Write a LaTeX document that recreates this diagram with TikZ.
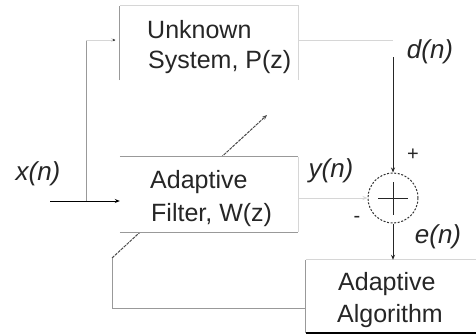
\documentclass[tikz,border=0pt]{standalone}
\usepackage{fontspec}
\setmainfont{Liberation Sans}
\usetikzlibrary{arrows.meta}
\definecolor{edgeA}{HTML}{999999}
\definecolor{edgeB}{HTML}{D6D6D6}
\definecolor{wireG}{HTML}{8C8C8C}
\begin{document}
\begin{tikzpicture}[x=1pt,y=-1pt,
  box/.style={draw=none,fill=white,inner sep=0pt},
  txt/.style={font=\fontsize{25}{30}\selectfont,inner sep=0pt,anchor=base west,text=black!85},
  lab/.style={font=\itshape\fontsize{26}{30}\selectfont,inner sep=0pt,text=black!85},
  sgn/.style={font=\fontsize{20}{24}\selectfont,inner sep=0pt,text=black!85},
  arr/.style={-{Stealth[length=5pt,width=4pt]}},
  wire/.style={line width=1pt},
  sumc/.style={circle,draw=black!80,line width=1pt,dash pattern=on 2pt off 1.6pt,minimum size=50pt,inner sep=0pt}]
\useasboundingbox[fill=white] (0,0) rectangle (476,335);
% feedback / adaptation coordinates
\coordinate (fb) at (112,308);
\coordinate (fbc) at (112,258);
\coordinate (fbt) at (267,115);
\draw[wire,arr,draw=black!70,dash pattern=on 3pt off 1pt] (fbc) -- (fbt);
% blocks
\node[box,minimum width=178pt,minimum height=74pt] (unk) at (209,43) {};
\node[box,minimum width=178pt,minimum height=75pt] (filt) at (209,194.5) {};
\node[box,minimum width=174pt,minimum height=73pt] (algo) at (393,296.5) {};
\node[sumc] (sum) at (393,198) {};
% block edges
\draw[wire,edgeA] (unk.south west) -- (unk.north west);
\draw[wire,edgeB] (unk.north west) -- (unk.north east) -- (unk.south east);
\draw[wire,edgeA] (filt.north west) -- (filt.north east);
\draw[wire,edgeA] (filt.south west) -- (filt.south east);
\draw[wire,edgeB] (filt.north east) -- (filt.south east);
\draw[wire,edgeA] (algo.north west) -- (algo.south west);
\draw[wire,edgeB] (algo.north west) -- (algo.north east);
\draw[line width=1.6pt,black] (algo.south west) -- (algo.south east);
% texts
\node[txt] (u1) at (147,38) {Unknown};
\node[txt] (u2) at (148,68) {System, P(z)};
\node[txt] (f1) at (150,188) {Adaptive};
\node[txt] (f2) at (151,221) {Filter, W(z)};
\node[txt] (a1) at (338,290) {Adaptive};
\node[txt] (a2) at (337,322) {Algorithm};
% summing junction plus
\draw[wire,black!85] ([xshift=-15pt]sum.center) -- ([xshift=15pt]sum.center);
\draw[wire,black!85] ([yshift=16pt]sum.center) -- ([yshift=-17pt]sum.center);
% labels
\node[lab] (lx) at (38,174) {x(n)};
\node[lab] (ld) at (430,52) {d(n)};
\node[lab] (ly) at (331,171) {y(n)};
\node[lab] (le) at (438,237) {e(n)};
\node[sgn] (lp) at (413,155) {+};
\node[sgn] (lm) at (357,219) {-};
% connectors
\coordinate (xin) at (50,201);
\coordinate (br) at (86,201);
\coordinate (ptop) at (86,40);
\coordinate (dc) at (393,40);
\coordinate (dtop) at (393,57);
\draw[wire,arr,black] (xin) -- (xin -| filt.west);
\draw[wire,edgeA] (br) -- (ptop);
\draw[wire,arr,edgeB] (ptop) -- ([xshift=-4pt]ptop -| unk.west);
\fill[black!80] ([xshift=-6pt]ptop -| unk.west) circle (1.2pt);
\draw[wire,edgeB] (dc -| unk.east) -- (dc);
\draw[wire,arr,black!85] (dtop) -- (sum.north);
\draw[wire,arr,edgeB] (sum.west -| filt.east) -- (sum.west);
\draw[wire,arr,black!85] (sum.south) -- (algo.north);
\draw[wire,edgeA] (fb -| algo.west) -- (fb) -- (fbc);
\end{tikzpicture}
\end{document}
